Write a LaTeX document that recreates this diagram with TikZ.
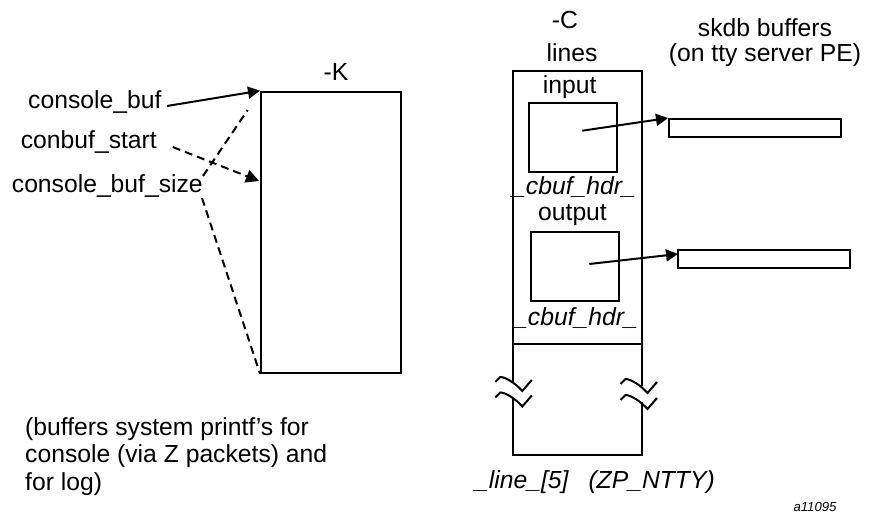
\documentclass[tikz,border=0pt]{standalone}
\usepackage{fontspec}
\setmainfont{Liberation Sans}
\usetikzlibrary{arrows.meta}
\begin{document}
\begin{tikzpicture}[x=1pt,y=-1pt,
  lbl/.style={inner sep=0pt, font=\fontsize{24.7}{27.5}\selectfont, anchor=base west},
  clbl/.style={inner sep=0pt, font=\fontsize{24.7}{27.5}\selectfont, anchor=base},
  ilbl/.style={clbl, font=\fontsize{24.7}{27.5}\selectfont\itshape},
  box/.style={draw, line width=2pt, inner sep=0pt},
  ln/.style={line width=2pt},
  arr/.style={ln, -{Triangle[length=12pt,width=12pt]}},
  dsh/.style={ln, dash pattern=on 8pt off 5pt},
  brk/.pic={\draw[line width=2pt] (-18,0) -- (-13,-5) .. controls (-8,-5) and (2,1) .. (9,9) -- (18.5,-2);}
]
\useasboundingbox (0,0) rectangle (871,514);

% ---- left part: -K buffer
\node[box, minimum width=140pt, minimum height=281pt] (K) at (331,232.2) {};
\node[clbl] (Klbl) at (336,80) {-K};
\node[lbl] (cbuf) at (28,108) {console\_buf};
\node[lbl] (cstart) at (20.7,148.3) {conbuf\_start};
\node[lbl] (csize) at (11.7,192.7) {console\_buf\_size};
\node[lbl, anchor=north west, align=left] (note) at (25,417)
  {(buffers system printf’s for\\console (via Z packets) and\\for log)};

\coordinate (s1) at (167,106);
\draw[arr] (s1) -- (K.north west);
\coordinate (s2) at (172.7,147);
\coordinate (t2) at (259,181);
\draw[dsh, -{Triangle[length=13pt,width=13pt]}] (s2) -- (t2);
\coordinate (s3) at (203,176);
\coordinate (t3) at (247.7,110);
\draw[dsh] (s3) -- (t3);
\coordinate (s4) at (202,198);
\draw[dsh] (s4) -- (K.south west);

% ---- right part: -C lines
\node[inner sep=0pt, minimum width=128.4pt, minimum height=383.6pt] (C) at (577.5,262.5) {};
\node[clbl] (Clbl) at (565,28.3) {-C};
\node[clbl] (lines) at (572,61.7) {lines};
\draw[ln] (C.west |- 0,383) -- (C.north west) -- (C.north east) -- (C.east |- 0,386);
\draw[ln] (C.west |- 0,398.5) -- (C.south west) -- (C.south east) -- (C.east |- 0,402);
\draw[ln] (C.west |- 0,344) -- (C.east |- 0,344);
\pic at (513.3,382) {brk};
\pic at (513.3,397.5) {brk};
\pic at (638.5,384) {brk};
\pic at (638.5,400) {brk};

\node[clbl] (inlbl) at (569.7,93.3) {input};
\node[box, minimum width=87.7pt, minimum height=69pt] (inbox) at (572.8,137.8) {};
\node[ilbl] (hdr1) at (574,194.3) {\_cbuf\_hdr\_};
\node[clbl] (outlbl) at (572.5,220.7) {output};
\node[box, minimum width=88pt, minimum height=69pt] (outbox) at (575,266.2) {};
\node[ilbl] (hdr2) at (576,325) {\_cbuf\_hdr\_};

\node[box, minimum width=172pt, minimum height=18.3pt] (sk1) at (755,128.2) {};
\node[box, minimum width=171.7pt, minimum height=18.3pt] (sk2) at (764.2,259.2) {};
\node[inner sep=0pt, align=center, anchor=north, font=\fontsize{24.7}{25}\selectfont] (sklbl) at (765,18.7)
  {skdb buffers\\(on tty server PE)};

\coordinate (s5) at (582.3,130.7);
\draw[arr] (s5) -- (sk1.north west);
\coordinate (s6) at (589.3,264);
\coordinate (t6) at (678,254);
\draw[arr] (s6) -- (t6);

\node[ilbl, anchor=base west] (linelbl) at (475,488.3) {\_line\_[5]};
\node[ilbl, anchor=base west] (ntty) at (588.3,488.3) {(ZP\_NTTY)};
\node[inner sep=0pt, anchor=base west, font=\fontsize{13.2}{15}\selectfont\itshape] (fig) at (793.3,511.7) {a11095};
\end{tikzpicture}
\end{document}
